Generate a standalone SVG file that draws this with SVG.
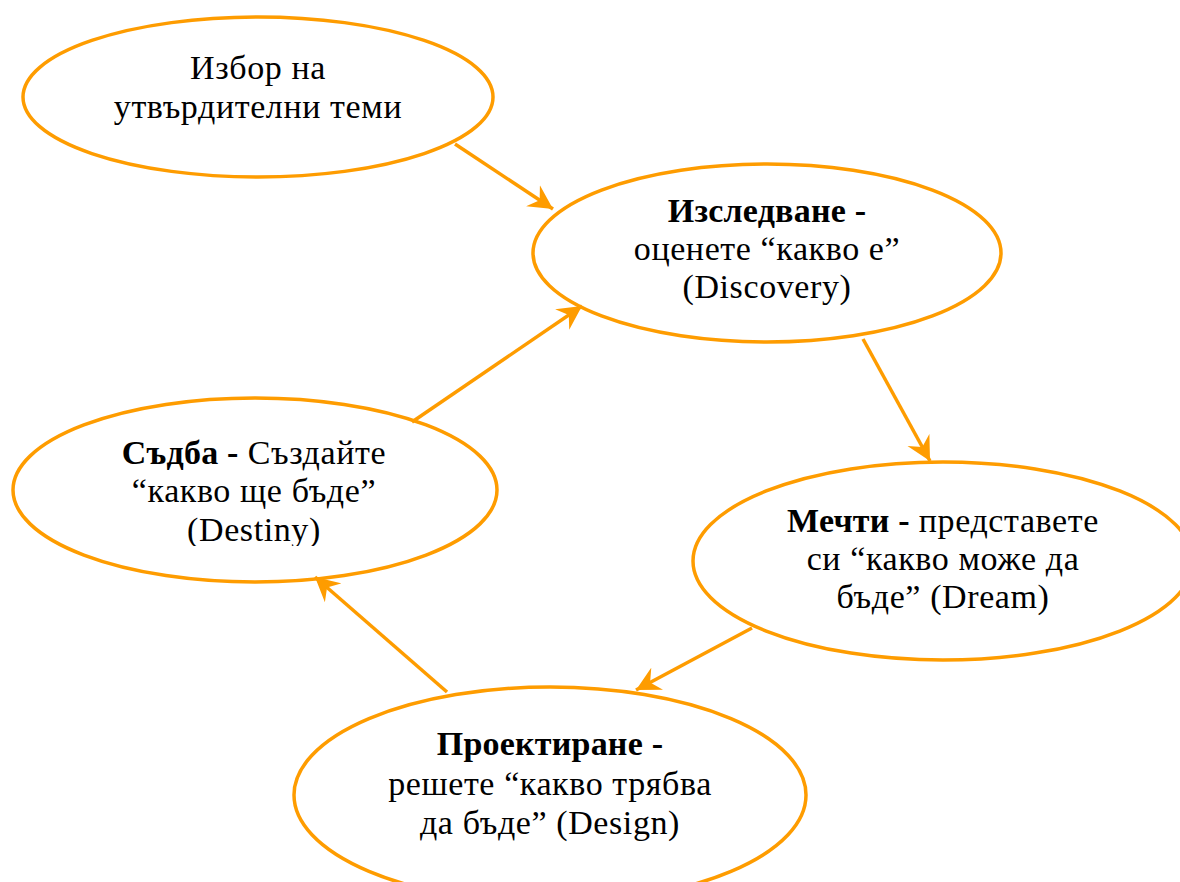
<svg xmlns="http://www.w3.org/2000/svg" width="1180" height="882" viewBox="0 0 1180 882">
<style>
.node ellipse{fill:#fff;stroke:#FE9C00;stroke-width:3.5}
.lbl{font-family:"Liberation Serif","Times New Roman",serif;font-size:34px;letter-spacing:0.6px;fill:#000;text-anchor:middle}
.b{font-weight:bold;letter-spacing:0.2px}
.conn line{stroke:#FE9C00;stroke-width:3.5;fill:none}
</style>
<defs>
<marker id="arr" markerUnits="userSpaceOnUse" viewBox="0 0 26 26" refX="24" refY="13" markerWidth="26" markerHeight="26" orient="auto">
<path d="M24,13 L0,0.5 L8,13 L0,25.5 Z" fill="#FE9C00"/>
</marker>
<clipPath id="clipDestiny"><rect x="0" y="0" width="1180" height="546"/></clipPath>
</defs>
<rect width="1180" height="882" fill="#fff"/>
<g id="n1" class="node">
<ellipse cx="258" cy="97" rx="235" ry="80"/>
<text class="lbl"><tspan x="258" y="79">Избор на</tspan><tspan x="258" y="118">утвърдителни теми</tspan></text>
</g>
<g id="n2" class="node">
<ellipse cx="767" cy="253" rx="234" ry="89"/>
<text class="lbl"><tspan x="767" y="222" class="b">Изследване -</tspan><tspan x="767" y="260">оценете “какво е”</tspan><tspan x="767" y="298">(Discovery)</tspan></text>
</g>
<g id="n3" class="node">
<ellipse cx="943" cy="561" rx="250" ry="99"/>
<text class="lbl"><tspan x="943" y="532"><tspan class="b">Мечти -</tspan> представете</tspan><tspan x="943" y="570">си “какво може да</tspan><tspan x="943" y="608">бъде” (Dream)</tspan></text>
</g>
<g id="n4" class="node">
<ellipse cx="550" cy="795" rx="256" ry="108"/>
<text class="lbl"><tspan x="550" y="755" class="b">Проектиране -</tspan><tspan x="550" y="795">решете “какво трябва</tspan><tspan x="550" y="834">да бъде” (Design)</tspan></text>
</g>
<g id="n5" class="node">
<ellipse cx="255" cy="490" rx="242" ry="92"/>
<text class="lbl" clip-path="url(#clipDestiny)"><tspan x="254" y="464"><tspan class="b">Съдба -</tspan> Създайте</tspan><tspan x="254" y="502">“какво ще бъде”</tspan><tspan x="254" y="541">(Destiny)</tspan></text>
</g>
<g id="connectors" class="conn">
<line x1="455" y1="144" x2="553" y2="209" marker-end="url(#arr)"/>
<line x1="863" y1="339" x2="930" y2="461" marker-end="url(#arr)"/>
<line x1="752" y1="628" x2="636" y2="690" marker-end="url(#arr)"/>
<line x1="447" y1="692" x2="315" y2="577" marker-end="url(#arr)"/>
<line x1="412" y1="422" x2="582" y2="306" marker-end="url(#arr)"/>
</g>
</svg>
